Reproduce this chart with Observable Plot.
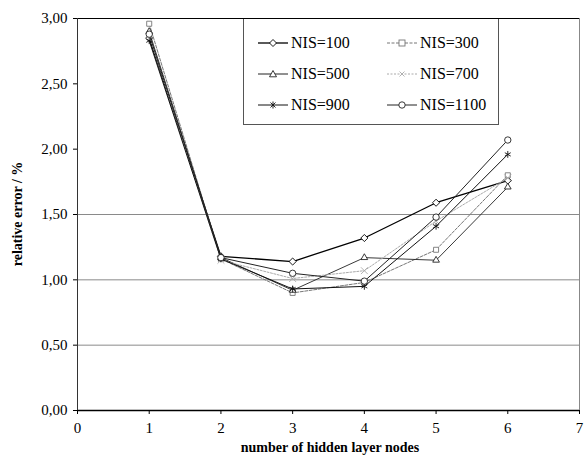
<!DOCTYPE html>
<html>
<head>
<meta charset="utf-8">
<script src="https://cdn.jsdelivr.net/npm/d3@7"></script>
<script src="https://cdn.jsdelivr.net/npm/@observablehq/plot@0.6"></script>
<style>
  html, body { margin: 0; padding: 0; background: #fff; }
  #wrap { position: relative; width: 584px; height: 469px; font-family: "Liberation Serif", "Times New Roman", "DejaVu Serif", serif; }
  #wrap svg, #wrap svg text { font-family: "Liberation Serif", "Times New Roman", "DejaVu Serif", serif !important; }
  #legend { position: absolute; left: 243px; top: 19px; width: 256px; height: 106px; background: #fff;
            border: 1px solid #555; border-top: none; box-sizing: border-box; }
  .item { position: absolute; display: flex; align-items: center; font-size: 16px; color: #000;
          font-family: "Liberation Serif", "Times New Roman", "DejaVu Serif", serif; }
  .item svg { margin-right: 2px; }
</style>
</head>
<body>
<div id="wrap"></div>
<script>
const nodes = [1, 2, 3, 4, 5, 6];
const seriesNames = ["NIS=100", "NIS=300", "NIS=500", "NIS=700", "NIS=900", "NIS=1100"];
const nis100  = [2.85, 1.18, 1.14, 1.32, 1.59, 1.76];
const nis300  = [2.96, 1.16, 0.90, 0.98, 1.23, 1.80];
const nis500  = [2.90, 1.17, 0.92, 1.17, 1.15, 1.71];
const nis700  = [2.87, 1.15, 1.01, 1.07, 1.45, 1.78];
const nis900  = [2.83, 1.16, 0.93, 0.95, 1.41, 1.96];
const nis1100 = [2.88, 1.17, 1.05, 0.99, 1.48, 2.07];
const xTicks = [0, 1, 2, 3, 4, 5, 6, 7];
const yTicks = [0, 0.5, 1, 1.5, 2, 2.5, 3];
const gridValues = [0.5, 1, 1.5];

const allValues = [nis100, nis300, nis500, nis700, nis900, nis1100];
const styles = [
  {stroke: "#000", width: 1.3, dash: null, symbol: "diamond2"},
  {stroke: "#777", width: 1, dash: "3,1.5", symbol: "square2"},
  {stroke: "#222", width: 0.9, dash: null, symbol: "triangle2"},
  {stroke: "#aaa", width: 1, dash: "2,1.5", symbol: "times"},
  {stroke: "#111", width: 1, dash: null, symbol: "asterisk"},
  {stroke: "#222", width: 1, dash: null, symbol: "circle"}
];
const data = [];
seriesNames.forEach((s, i) => nodes.forEach((n, j) => data.push({series: s, x: n, y: allValues[i][j]})));

const fmt = d => d3.format(".2f")(d).replace(".", ",");
const serif = "Liberation Serif, Times New Roman, DejaVu Serif, serif";

const marks = [
  Plot.ruleY(gridValues, {stroke: "#8a8a8a", strokeWidth: 1}),
  Plot.ruleX([7], {stroke: "#888", strokeWidth: 1}),
  Plot.ruleY([3], {stroke: "#000", strokeWidth: 1}),
  Plot.ruleY([0], {stroke: "#000", strokeWidth: 1.3}),
  Plot.ruleX([0], {stroke: "#333", strokeWidth: 1}),
];
seriesNames.forEach((s, i) => {
  const st = styles[i];
  const d = data.filter(r => r.series === s);
  marks.push(Plot.line(d, {x: "x", y: "y", stroke: st.stroke, strokeWidth: st.width, strokeDasharray: st.dash}));
  marks.push(Plot.dot(d, {x: "x", y: "y", symbol: st.symbol, stroke: st.stroke, fill: "white", r: 3.2, strokeWidth: 0.9}));
});
marks.push(Plot.axisX({ticks: xTicks, tickSize: 4, tickFormat: d => d, fontSize: 15, tickPadding: 8, fontFamily: serif}));
marks.push(Plot.axisY({ticks: yTicks, tickSize: 4, tickFormat: fmt, fontSize: 15, tickPadding: 6, fontFamily: serif}));

const chart = Plot.plot({
  width: 584,
  height: 469,
  marginLeft: 77,
  marginRight: 5,
  marginTop: 18,
  marginBottom: 59,
  style: {fontFamily: serif, fontSize: "15px", color: "#000", background: "#fff"},
  x: {domain: [0, 7], label: null},
  y: {domain: [0, 3], label: null},
  marks
});
const wrap = document.getElementById("wrap");
wrap.appendChild(chart);

// axis titles
const ns = "http://www.w3.org/2000/svg";
const xt = document.createElementNS(ns, "text");
xt.setAttribute("x", 330); xt.setAttribute("y", 452);
xt.setAttribute("text-anchor", "middle");
xt.setAttribute("font-weight", "bold"); xt.setAttribute("font-size", "14");
xt.textContent = "number of hidden layer nodes";
chart.appendChild(xt);
const yt = document.createElementNS(ns, "text");
yt.setAttribute("transform", "translate(22,214) rotate(-90)");
yt.setAttribute("text-anchor", "middle");
yt.setAttribute("font-weight", "bold"); yt.setAttribute("font-size", "14");
yt.textContent = "relative error / %";
chart.appendChild(yt);

// legend
const legend = document.createElement("div");
legend.id = "legend";
const symbolPath = {
  diamond2: '<path d="M15,2.5 L18.5,6 L15,9.5 L11.5,6Z" fill="white"/>',
  square2: '<rect x="12" y="3" width="6" height="6" fill="white"/>',
  triangle2: '<path d="M15,2.5 L18.5,8.8 L11.5,8.8Z" fill="white"/>',
  times: '<path d="M12.5,3.5 L17.5,8.5 M17.5,3.5 L12.5,8.5" fill="none"/>',
  asterisk: '<path d="M12.5,3.5 L17.5,8.5 M17.5,3.5 L12.5,8.5 M15,2.5 L15,9.5" fill="none"/>',
  circle: '<circle cx="15" cy="6" r="3.2" fill="white"/>'
};
seriesNames.forEach((s, i) => {
  const st = styles[i];
  const col = i % 2, row = Math.floor(i / 2);
  const it = document.createElement("div");
  it.className = "item";
  it.style.left = (col === 0 ? 14 : 143) + "px";
  it.style.top = (15 + row * 31) + "px";
  it.innerHTML = `<svg width="31" height="12" style="overflow:visible"><g stroke="${st.stroke}" stroke-width="${Math.max(st.width,1)}">
     <line x1="0" y1="6" x2="30" y2="6" ${st.dash ? `stroke-dasharray="${st.dash}"` : ""}/>
     <g stroke-width="0.9">${symbolPath[st.symbol]}</g></g></svg><span>${s}</span>`;
  legend.appendChild(it);
});
wrap.appendChild(legend);
</script>
</body>
</html>
